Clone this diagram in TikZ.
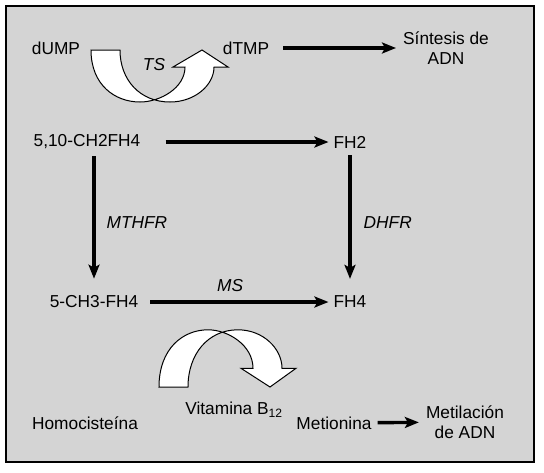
\documentclass[tikz,border=0pt]{standalone}
\usepackage{fontspec}
\setmainfont{Liberation Sans}
\usepackage{tikz}
\usetikzlibrary{positioning,arrows.meta}
\definecolor{panelgray}{RGB}{212,212,212}
\tikzset{
  pics/twistarrow/.style={code={
    \filldraw[fill=white,draw=black,line width=1pt]
      (0,0) -- (29,0) .. controls (29,30) and (49,52) .. (79,52)
      .. controls (104,52) and (123,35) .. (123,17)
      -- (137,17) -- (111,0) -- (82,17) -- (94,17)
      .. controls (94,38) and (69,52) .. (49,52)
      .. controls (24,52) and (0,35) .. (0,0) -- cycle;
  }}
}
\begin{document}
\begin{tikzpicture}[
  x=1pt,y=-1pt,
  lbl/.style={inner sep=0pt,align=center,font=\fontsize{17.3}{20}\selectfont},
  enz/.style={lbl,font=\fontsize{17.3}{20}\selectfont\itshape},
  arrow/.style={-{Stealth[length=14pt,width=11pt,inset=3pt]},line width=3.4pt}
]
\useasboundingbox (0,0) rectangle (544,472);
\draw[fill=panelgray,line width=1.5pt] (6,6) rectangle (534,462);

% thymidylate cycle
\node[lbl] (dump) at (56,48) {dUMP};
\node[lbl] (dtmp) at (246,48) {dTMP};
\node[lbl] (sintesis) at (446,48) {Síntesis de\\ADN};
\pic at (91,50) {twistarrow};
\node[enz] (ts) at (154,65) {TS};
\draw[arrow,shorten <=14pt,shorten >=7pt] (dtmp) -- (sintesis);

% folate cycle
\node[lbl] (ch2) at (87,142) {5,10-CH2FH4};
\node[lbl] (fh2) at (350,142) {FH2};
\node[lbl] (ch3) at (94,302) {5-CH3-FH4};
\node[lbl] (fh4) at (350,302) {FH4};
\draw[arrow,shorten <=25pt,shorten >=5pt] (ch2) -- (fh2);
\draw[arrow,shorten <=7pt,shorten >=17pt] (fh2) -- (fh4)
  node[midway,right=12pt,enz] (dhfr) {DHFR};
\draw[arrow,shorten <=7pt,shorten >=17pt] (ch2.south -| ch3) -- (ch3.north)
  node[midway,right=11pt,enz] (mthfr) {MTHFR};
\draw[arrow,shorten <=12pt,shorten >=5pt] (ch3) -- (fh4)
  node[pos=0.47,above=9pt,enz] (ms) {MS};

% methionine cycle
\pic[yscale=-1.1] at (159,387) {twistarrow};
\node[lbl] (homo) at (85,423) {Homocisteína};
\node[lbl] (vitb) at (234,410) {Vitamina B\textsubscript{12}};
\node[lbl] (metionina) at (334,423) {Metionina};
\node[lbl] (metil) at (465,422) {Metilación\\de ADN};
\draw[arrow,shorten <=6pt,shorten >=7pt] (metionina) -- (metil);
\end{tikzpicture}
\end{document}
